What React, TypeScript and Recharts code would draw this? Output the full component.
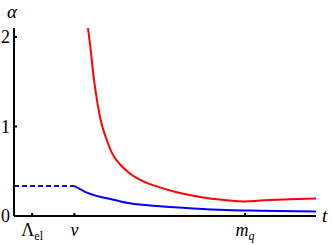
import { LineChart, Line, XAxis, YAxis, Label } from 'recharts'

// t positions of the marked scales
const tickT = [0.6, 2, 7.65]
const tickNames = ['Λ', 'v', 'm']
const tickSubs = ['el', '', 'q']
const yTicks = [0, 1, 2]

// blue: frozen value below v (dashed), then running
const flatT = [0, 2]
const flatAlpha = [0.335, 0.335]
const blueT = [2, 2.19, 2.32, 2.85, 3.2, 3.84, 4.83, 5.94, 7.04, 8.15, 10]
const blueAlpha = [0.335, 0.3, 0.276, 0.215, 0.19, 0.142, 0.109, 0.085, 0.068, 0.06, 0.05]

// red: diverges near v, minimum at m_q
const redT = [2.45, 2.54, 2.65, 2.76, 2.87, 3.04, 3.25, 3.53, 3.86, 4.3, 4.83, 5.39, 5.94, 6.49, 7.04, 7.65, 8.15, 10]
const redAlpha = [2.1, 1.85, 1.52, 1.27, 1.07, 0.88, 0.7, 0.57, 0.47, 0.385, 0.32, 0.265, 0.225, 0.195, 0.176, 0.163, 0.172, 0.195]

const zip = (ts: number[], as: number[]) => ts.map((t, i) => ({ t, a: as[i] }))

const font = '"Liberation Serif", "DejaVu Serif", serif'

function XTick(props: any) {
  const { x, y, index } = props
  const italic = tickNames[index] !== 'Λ'
  return (
    <text x={x} y={y + 21} textAnchor="middle" fontFamily={font} fontSize={18} fill="#000">
      <tspan fontStyle={italic ? 'italic' : 'normal'}>{tickNames[index]}</tspan>
      {tickSubs[index] && (
        <tspan fontSize={12} dy={4} fontStyle={italic ? 'italic' : 'normal'}>
          {tickSubs[index]}
        </tspan>
      )}
    </text>
  )
}

export default function App() {
  return (
    <div style={{ position: 'absolute', left: 0, top: 0, background: '#fff' }}>
      <LineChart width={332} height={245} margin={{ top: 28, right: 16, left: 0, bottom: 0 }}>
        <XAxis
          type="number"
          dataKey="t"
          domain={[0, 10]}
          ticks={tickT}
          tick={<XTick />}
          height={29}
          stroke="#000"
          strokeWidth={2}
          tickSize={-3}
          allowDataOverflow
        >
          <Label
            content={() => (
              <text x={322} y={222} fontFamily={font} fontStyle="italic" fontSize={19} fill="#000">
                t
              </text>
            )}
          />
        </XAxis>
        <YAxis
          type="number"
          domain={[0, 2.1]}
          ticks={yTicks}
          width={14}
          stroke="#000"
          strokeWidth={2}
          tickSize={-3}
          tickMargin={7}
          tick={{ fontFamily: font, fontSize: 18, fill: '#000' }}
          allowDataOverflow
        >
          <Label
            content={() => (
              <text x={7} y={18} fontFamily={font} fontStyle="italic" fontSize={19} fill="#000">
                α
              </text>
            )}
          />
        </YAxis>
        <Line
          data={zip(flatT, flatAlpha)}
          dataKey="a"
          stroke="#0000ff"
          strokeWidth={2}
          strokeDasharray="5 3"
          dot={false}
          isAnimationActive={false}
        />
        <Line
          data={zip(blueT, blueAlpha)}
          dataKey="a"
          type="monotone"
          stroke="#0000ff"
          strokeWidth={2}
          dot={false}
          isAnimationActive={false}
        />
        <Line
          data={zip(redT, redAlpha)}
          dataKey="a"
          type="monotone"
          stroke="#ff0000"
          strokeWidth={2}
          dot={false}
          isAnimationActive={false}
        />
      </LineChart>
    </div>
  )
}
